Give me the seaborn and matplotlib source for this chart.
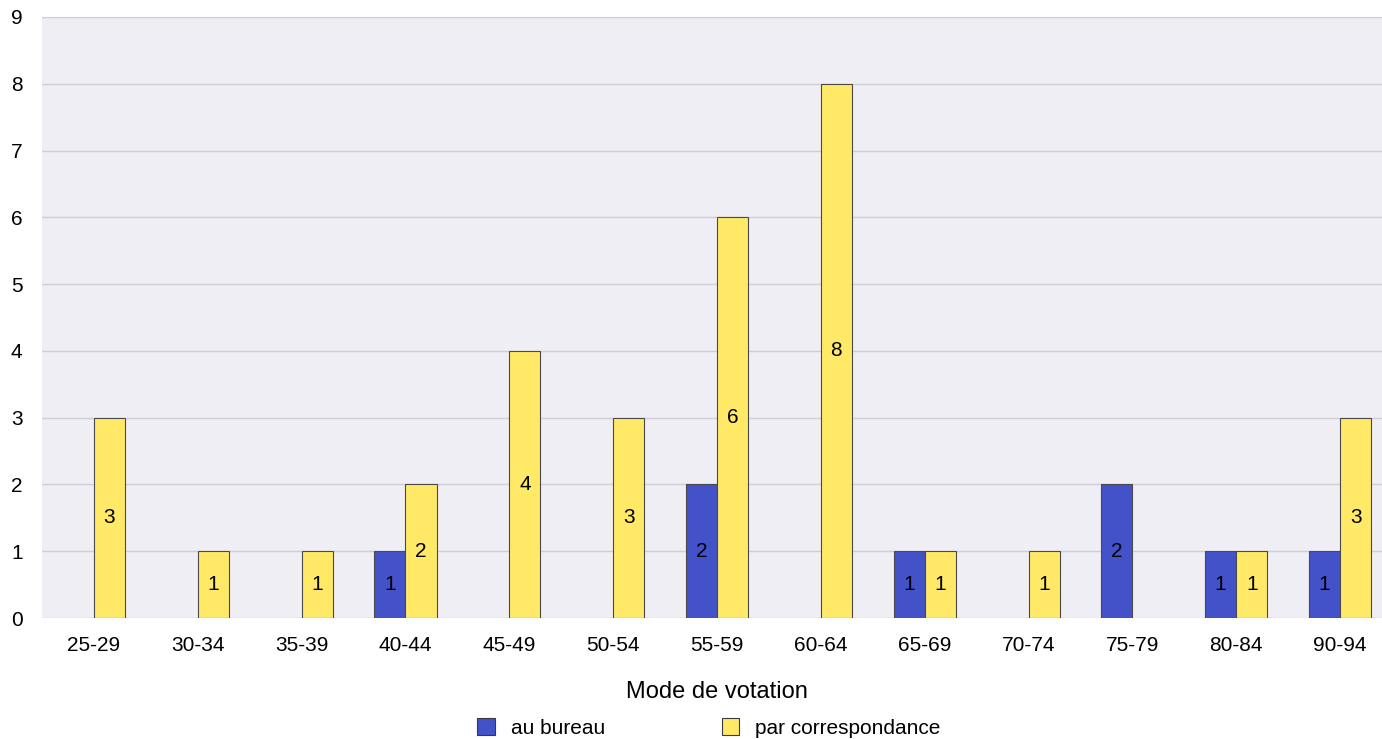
import matplotlib
matplotlib.use("Agg")
import matplotlib.pyplot as plt
import seaborn as sns
import pandas as pd

categories = ["25-29", "30-34", "35-39", "40-44", "45-49", "50-54", "55-59",
              "60-64", "65-69", "70-74", "75-79", "80-84", "90-94"]
au_bureau = [0, 0, 0, 1, 0, 0, 2, 0, 1, 0, 2, 1, 1]
par_correspondance = [3, 1, 1, 2, 4, 3, 6, 8, 1, 1, 0, 1, 3]
series = ["au bureau", "par correspondance"]
colors = ["#4352C9", "#FFE966"]

rows = []
for cat, a, b in zip(categories, au_bureau, par_correspondance):
    if a:
        rows.append((cat, series[0], a))
    if b:
        rows.append((cat, series[1], b))
df = pd.DataFrame(rows, columns=["age", "mode", "n"])

sns.set_theme(style="whitegrid")
plt.rcParams["font.family"] = ["Liberation Sans", "DejaVu Sans"]
plt.rcParams["text.color"] = "black"
plt.rcParams["xtick.color"] = "black"
plt.rcParams["ytick.color"] = "black"
plt.rcParams["axes.labelcolor"] = "black"

fig = plt.figure(figsize=(13.82, 7.39), dpi=100)
ax = fig.add_axes([42 / 1382, 1 - 618 / 739, 1350 / 1382, 601 / 739])
ax.set_facecolor("#EFEEF4")

sns.barplot(data=df, x="age", y="n", hue="mode", order=categories,
            hue_order=series, palette=colors, saturation=1, width=0.6,
            dodge=True, edgecolor="#4a4a4a", linewidth=0.8, errorbar=None,
            ax=ax, legend=True)

for cont in ax.containers:
    labels = [f"{int(round(b.get_height()))}" if b.get_height() > 0 else ""
              for b in cont]
    ax.bar_label(cont, labels=labels, label_type="center", fontsize=15,
                 color="black")

ax.set_ylim(0, 9)
ax.set_yticks(range(10))
ax.set_xlim(-0.5, len(categories) - 0.5)
ax.grid(axis="y", color="#CFCED8", linewidth=1)
ax.grid(axis="x", visible=False)
ax.set_axisbelow(True)
for s in ax.spines.values():
    s.set_visible(False)
ax.tick_params(axis="y", length=12, color="#CFCED8", width=1, labelsize=15,
               pad=2)
ax.tick_params(axis="x", length=0, labelsize=15, pad=13)
ax.set_ylabel("")
ax.set_xlabel("Mode de votation", fontsize=17, labelpad=19)

handles, labels = ax.get_legend_handles_labels()
ax.legend(handles, labels, loc="center", bbox_to_anchor=(0.494, -0.183),
          ncol=2, frameon=False, fontsize=15, handlelength=0.85,
          handleheight=0.85, columnspacing=5.6, handletextpad=0.77,
          borderpad=0, borderaxespad=0)
for h in ax.get_legend().legend_handles:
    h.set_edgecolor("#3a3a3a")

fig.savefig("out.png", dpi=100)
